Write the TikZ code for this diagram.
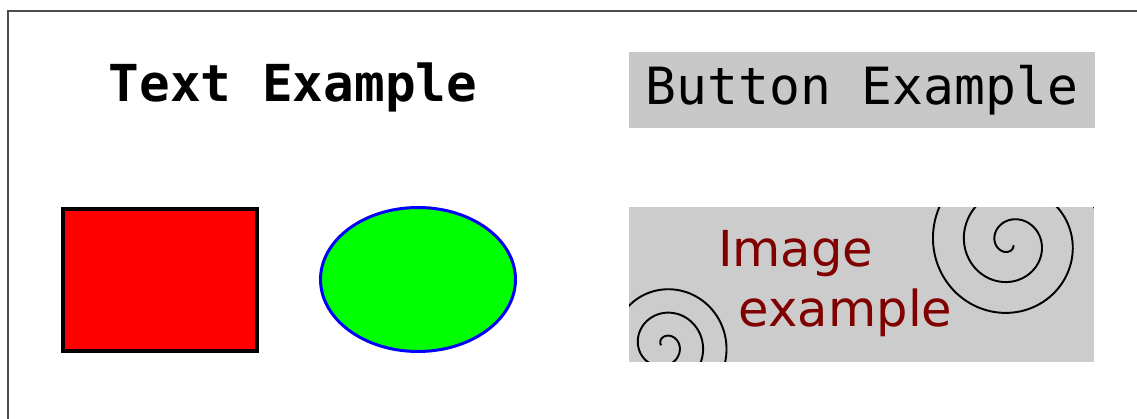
\documentclass[tikz,border=0pt]{standalone}
\usepackage{fontspec}
\usepackage{tikz}
\usetikzlibrary{shapes.geometric}
\newfontfamily\dvmono{DejaVu Sans Mono}
\newfontfamily\dvsans{DejaVu Sans}
\definecolor{btngray}{HTML}{C8C8C8}
\definecolor{imggray}{HTML}{CCCCCC}
\definecolor{imgred}{HTML}{800000}

\begin{document}
\begin{tikzpicture}[
                    x=0.02cm,
                    y=0.02cm,
                    inner sep=0pt,
                    outer sep=0pt
                ]
                \tikzstyle{frame}=[
                    draw=black!70,
                    line width=0.7pt
                ]
                \tikzstyle{heading}=[
                    font=\dvmono\bfseries\fontsize{29}{34}\selectfont
                ]
                \tikzstyle{button}=[
                    fill=btngray,
                    minimum width=9.32cm,
                    minimum height=1.52cm,
                    font=\dvmono\fontsize{29.2}{34}\selectfont
                ]
                \tikzstyle{redbox}=[
                    rectangle,
                    fill=red,
                    draw=black,
                    line width=0.08cm,
                    minimum width=3.88cm,
                    minimum height=2.84cm
                ]
                \tikzstyle{greenoval}=[
                    ellipse,
                    fill=green,
                    draw=blue,
                    line width=0.06cm,
                    minimum width=3.9cm,
                    minimum height=2.88cm
                ]
                \tikzstyle{imagebox}=[
                    fill=imggray,
                    minimum width=9.3cm,
                    minimum height=3.1cm
                ]
                \tikzstyle{imagetext}=[
                    text=imgred,
                    align=left,
                    font=\dvsans\fontsize{28.2}{34.1}\selectfont
                ]
                \tikzstyle{spiral}=[
                    draw=black,
                    line width=1.1pt
                ]

                \useasboundingbox (0,0) rectangle (1137,419);
                \draw[frame] (8,0) -- (8,408) -- (1137,408);

                \node[heading, anchor=base] (txt) at (293,317) {Text Example};
                \node[button] (btn) at (862,329) {Button Example};

                \node[redbox] (rect) at (160,139) {};
                \node[greenoval] (oval) at (418,139.5) {};

                \node[imagebox] (img) at (861.5,134.5) {};
                \begin{scope}
                    \clip (img.south west) rectangle (img.north east);
                    \draw[spiral] plot[domain=40:1080, samples=300, variable=\t]
                        ({1010.6+\t/360*31*cos(-\t)}, {176+\t/360*31*sin(-\t)});
                    \draw[spiral] plot[domain=50:1080, samples=300, variable=\t]
                        ({664.6+\t/360*23.5*cos(227-\t)}, {73.7+\t/360*23.5*sin(227-\t)});
                \end{scope}
                \node[imagetext, anchor=base west] (imgtxt) at (718,92.3)
                    {Image\\\hspace*{0.42cm}example};
            \end{tikzpicture}
\end{document}
